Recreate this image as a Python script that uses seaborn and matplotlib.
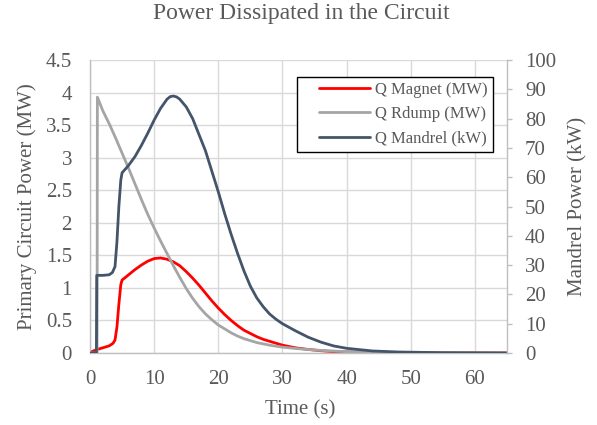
import matplotlib
matplotlib.use("Agg")
import matplotlib.pyplot as plt
from matplotlib.legend_handler import HandlerLine2D
import seaborn as sns

# Q Magnet (MW) vs time (s)
magnet_t = [0, 1, 2, 3, 3.6, 3.9, 4.2, 4.5, 4.8, 5.0, 6, 7, 8, 9, 10, 11, 12, 13,
            14, 15, 16, 17, 18, 19, 20, 21, 22, 23, 24, 25, 26, 27, 28, 30, 32, 34,
            36, 38, 40, 45, 50, 55, 65]
magnet_mw = [0.01, 0.05, 0.08, 0.11, 0.15, 0.2, 0.4, 0.75, 1.05, 1.12, 1.2, 1.28,
             1.35, 1.41, 1.45, 1.46, 1.44, 1.40, 1.34, 1.25, 1.15, 1.04, 0.92, 0.80,
             0.69, 0.59, 0.5, 0.42, 0.35, 0.3, 0.25, 0.21, 0.18, 0.12, 0.08, 0.055,
             0.035, 0.02, 0.015, 0.006, 0.003, 0.001, 0.0]

# Q Rdump (MW) vs time (s)
rdump_t = [0, 1.1, 1.15, 2, 3, 4, 5, 6, 7, 8, 9, 10, 11, 12, 13, 14, 15, 16, 17,
           18, 19, 20, 21, 22, 23, 24, 25, 26, 28, 30, 32, 35, 40, 45, 50, 65]
rdump_mw = [0, 0, 3.93, 3.72, 3.52, 3.30, 3.07, 2.84, 2.60, 2.36, 2.13, 1.92, 1.72,
            1.53, 1.34, 1.16, 0.99, 0.84, 0.71, 0.60, 0.51, 0.43, 0.37, 0.31, 0.26,
            0.22, 0.19, 0.16, 0.12, 0.09, 0.07, 0.045, 0.02, 0.01, 0.005, 0.0]

# Q Mandrel (kW) vs time (s)
mandrel_t = [0, 1.0, 1.05, 2, 3, 3.5, 3.9, 4.2, 4.5, 4.8, 5.0, 6, 7, 8, 9, 10, 11,
             12, 12.5, 13, 13.5, 14, 15, 16, 17, 18, 19, 20, 21, 22, 23, 24, 25, 26,
             27, 28, 29, 30, 32, 34, 36, 38, 40, 44, 48, 55, 65]
mandrel_kw = [0, 0, 26.5, 26.5, 26.7, 27.5, 29.5, 38, 50, 59, 61.5, 64, 67, 70.8,
              75, 79.5, 83.5, 86.6, 87.5, 87.7, 87.4, 86.6, 84, 80, 74.5, 69, 62, 55,
              47.5, 40.5, 34, 28, 22.8, 18.8, 15.8, 13.3, 11.5, 10.0, 7.6, 5.4, 3.7,
              2.4, 1.6, 0.7, 0.35, 0.1, 0.0]

x_ticks = [0, 10, 20, 30, 40, 50, 60]
left_ticks = [0, 0.5, 1, 1.5, 2, 2.5, 3, 3.5, 4, 4.5]
left_tick_labels = ["0", "0.5", "1", "1.5", "2", "2.5", "3", "3.5", "4", "4.5"]
right_ticks = [0, 10, 20, 30, 40, 50, 60, 70, 80, 90, 100]

TEXT = "#595959"
AXIS = "#BFBFBF"
GRID = "#D9D9D9"

sns.set_theme(style="white")
plt.rcParams["font.family"] = ["Liberation Serif", "DejaVu Serif"]

W, H = 597, 425
fig = plt.figure(figsize=(W / 100, H / 100), dpi=100)
ax = fig.add_axes([90 / W, 1 - 353 / H, 417 / W, 293 / H])
ax2 = ax.twinx()

sns.lineplot(x=magnet_t, y=magnet_mw, ax=ax, color="#FF0000", lw=2,
             estimator=None, sort=False, label="Q Magnet (MW)", legend=False)
sns.lineplot(x=rdump_t, y=rdump_mw, ax=ax, color="#A5A5A5", lw=2,
             estimator=None, sort=False, label="Q Rdump (MW)", legend=False)
sns.lineplot(x=mandrel_t, y=mandrel_kw, ax=ax2, color="#44546A", lw=2,
             estimator=None, sort=False, label="Q Mandrel (kW)", legend=False)

ax.set_xlim(0, 65)
ax.set_ylim(0, 4.5)
ax2.set_ylim(0, 100)
ax.set_xticks(x_ticks)
ax.set_yticks(left_ticks, left_tick_labels)
ax2.set_yticks(right_ticks)

ax.grid(True, color=GRID, lw=1)
ax2.grid(False)
ax.set_axisbelow(True)

for side in ("top", "right"):
    ax.spines[side].set_visible(False)
for side in ("left", "bottom"):
    ax.spines[side].set_color(AXIS)
    ax.spines[side].set_linewidth(1)
for side in ("left", "top", "bottom"):
    ax2.spines[side].set_visible(False)
ax2.spines["right"].set_color(AXIS)
ax2.spines["right"].set_linewidth(1)

ax.tick_params(axis="both", length=0, labelsize=15, labelcolor=TEXT)
ax.tick_params(axis="y", pad=13)
ax.tick_params(axis="x", pad=12)
ax2.tick_params(axis="y", length=3.6, width=1, color=AXIS, direction="out",
                labelsize=15, labelcolor=TEXT, pad=9.4)

ax.set_xlabel("Time (s)", fontsize=15, color=TEXT)
ax.set_ylabel("Primary Circuit Power (MW)", fontsize=15, color=TEXT)
ax2.set_ylabel("Mandrel Power (kW)", fontsize=15, color=TEXT)
ax.xaxis.set_label_coords((300 - 90) / 417, (353 - 410) / 293)
ax.yaxis.set_label_coords((27 - 90) / 417, 0.5)
ax2.yaxis.set_label_coords((578 - 90) / 417, 0.5)
ax.xaxis.label.set_va("center")
ax.yaxis.label.set_va("center")
ax2.yaxis.label.set_va("center")

fig.suptitle("Power Dissipated in the Circuit", x=301 / W, y=1 - 14 / H,
             va="center", fontsize=17, color=TEXT)

h1, l1 = ax.get_legend_handles_labels()
h2, l2 = ax2.get_legend_handles_labels()
leg = ax2.legend(h1 + h2, l1 + l2, loc="upper right",
                 bbox_to_anchor=((493 - 90) / 417, (353 - 77) / 293),
                 borderaxespad=0, frameon=True, fancybox=False,
                 edgecolor="black", framealpha=1, fontsize=12,
                 handlelength=4.1, handletextpad=0.3, labelspacing=0.5,
                 borderpad=0.3,
                 handler_map={plt.Line2D: HandlerLine2D(xpad=1.0)})
leg.get_frame().set_linewidth(1)
for txt in leg.get_texts():
    txt.set_color(TEXT)

fig.savefig("out.png", dpi=100)
